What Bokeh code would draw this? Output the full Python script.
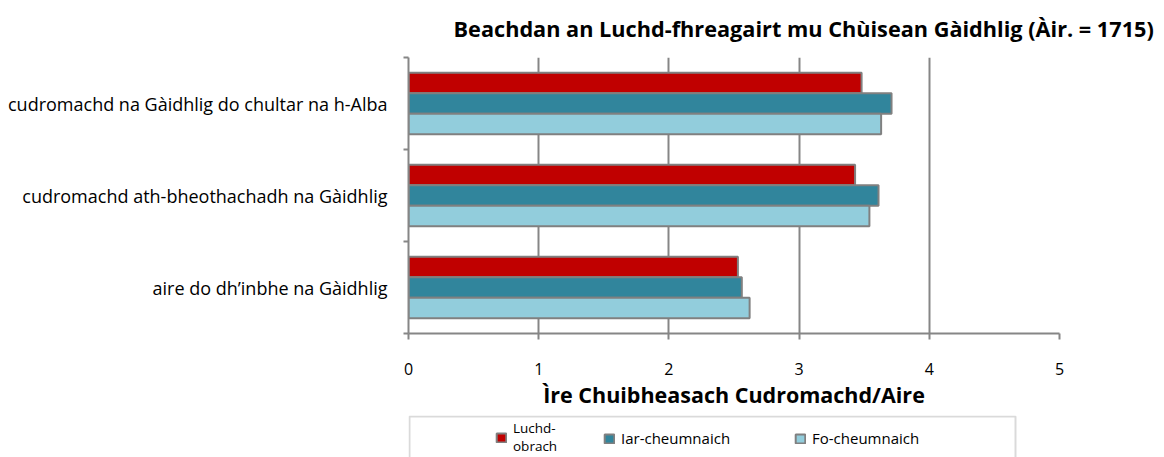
from bokeh.plotting import figure
from bokeh.layouts import column
from bokeh.models import (Range1d, FixedTicker, Legend, LegendItem, BoxAnnotation, Title)
from bokeh.embed import file_html
from bokeh.resources import INLINE

# ---- data ----
categories = ["cudromachd na Gàidhlig do chultar na h-Alba",
              "cudromachd ath-bheothachadh na Gàidhlig",
              "aire do dh’inbhe na Gàidhlig"]
series_names = ["Luchd-obrach", "Iar-cheumnaich", "Fo-cheumnaich"]
luchd_obrach = [3.48, 3.43, 2.53]
iar_cheumnaich = [3.71, 3.61, 2.56]
fo_cheumnaich = [3.63, 3.54, 2.62]
x_ticks = [0, 1, 2, 3, 4, 5]
title_text = "Beachdan an Luchd-fhreagairt mu Chùisean Gàidhlig (Àir. = 1715)"
x_title = "Ìre Chuibheasach Cudromachd/Aire"

colors = ["#C00000", "#31859C", "#92CDDC"]
FONT = "Open Sans"
GRAY = "#868686"

n = len(categories)
centers = [n - 1 - i for i in range(n)]  # top category drawn at top
series = [luchd_obrach, iar_cheumnaich, fo_cheumnaich]

p = figure(width=1164, height=415, x_range=Range1d(0, 5), y_range=Range1d(-0.5, n - 0.5),
           output_backend="svg", toolbar_location=None,
           min_border_left=408, min_border_right=105, min_border_top=57, min_border_bottom=82)
p.outline_line_color = None
p.background_fill_color = "white"
p.border_fill_color = "white"

p.title = Title(text=title_text, align="left", offset=45, text_font=FONT,
                text_font_size="21.7px", text_font_style="bold", text_color="black",
                standoff=26, vertical_align="top")

bar_h = 0.222
offsets = [bar_h, 0.0, -bar_h]
renderers = []
for vals, off, col in zip(series, offsets, colors):
    r = p.hbar(y=[c + off for c in centers], right=vals, left=0, height=bar_h,
               fill_color=col, line_color="#808080", line_width=2)
    renderers.append(r)

# x axis
xa = p.xaxis[0]
xa.ticker = FixedTicker(ticks=x_ticks, minor_ticks=[])
xa.axis_line_color = GRAY
xa.axis_line_width = 2
xa.major_tick_line_color = GRAY
xa.major_tick_line_width = 2
xa.major_tick_out = 6
xa.major_tick_in = 0
xa.minor_tick_line_color = None
xa.major_label_text_font = FONT
xa.major_label_text_font_size = "16px"
xa.major_label_text_color = "black"
xa.major_label_standoff = 23
xa.axis_label = x_title
xa.axis_label_text_font = FONT
xa.axis_label_text_font_size = "21.5px"
xa.axis_label_text_font_style = "bold"
xa.axis_label_text_color = "black"
xa.axis_label_standoff = 2

p.xgrid.grid_line_color = GRAY
p.xgrid.grid_line_width = 2
p.ygrid.visible = False

# y axis: labels at category centers, ticks at category boundaries
ya = p.yaxis[0]
ya.ticker = FixedTicker(ticks=centers, minor_ticks=[c - 0.5 for c in range(n + 1)])
ya.major_label_overrides = {c: categories[i] for i, c in enumerate(centers)}
ya.axis_line_color = GRAY
ya.axis_line_width = 2
ya.major_tick_line_color = None
ya.major_tick_out = 0
ya.major_tick_in = 0
ya.minor_tick_line_color = GRAY
ya.minor_tick_line_width = 2
ya.minor_tick_out = 5
ya.minor_tick_in = 0
ya.major_label_text_font = FONT
ya.major_label_text_font_size = "18px"
ya.major_label_text_color = "black"
ya.major_label_standoff = 16

# ---- legend strip below the chart (its frame is aligned with the chart's frame) ----
lg = figure(width=1164, height=42, x_range=Range1d(0, 1), y_range=Range1d(0, 1),
            x_axis_type=None, y_axis_type=None, output_backend="svg", toolbar_location=None,
            min_border=0, min_border_left=0, min_border_right=0, min_border_top=0, min_border_bottom=0)
lg.outline_line_color = None
lg.grid.visible = False
lg.background_fill_color = "white"
lg.border_fill_color = "white"

box = BoxAnnotation(left=409, right=1015, top=1, bottom=80,
                    left_units="canvas", right_units="canvas", top_units="canvas", bottom_units="canvas",
                    fill_alpha=0, line_color=GRAY, line_width=2)
lg.add_layout(box)

labels = ["Luchd-\nobrach", series_names[1], series_names[2]]
locs = [(87, 2), (195, 9), (386, 9)]
sizes = ["13.5px", "15px", "15px"]
for vals, off, col, lab, loc, fs in zip(series, offsets, colors, labels, locs, sizes):
    r = lg.hbar(y=[c + off for c in centers], right=vals, left=0, height=bar_h,
                fill_color=col, line_color="#808080", line_width=2, visible=False)
    leg = Legend(items=[LegendItem(label=lab, renderers=[r])], location=loc,
                 orientation="horizontal", glyph_width=12, glyph_height=11, label_standoff=6,
                 padding=0, margin=0, border_line_color=None, background_fill_alpha=0,
                 label_text_font=FONT, label_text_font_size=fs, label_text_color="black")
    lg.add_layout(leg, "center")

layout = column(p, lg, spacing=0)
open("out.html", "w").write(file_html(layout, INLINE))
